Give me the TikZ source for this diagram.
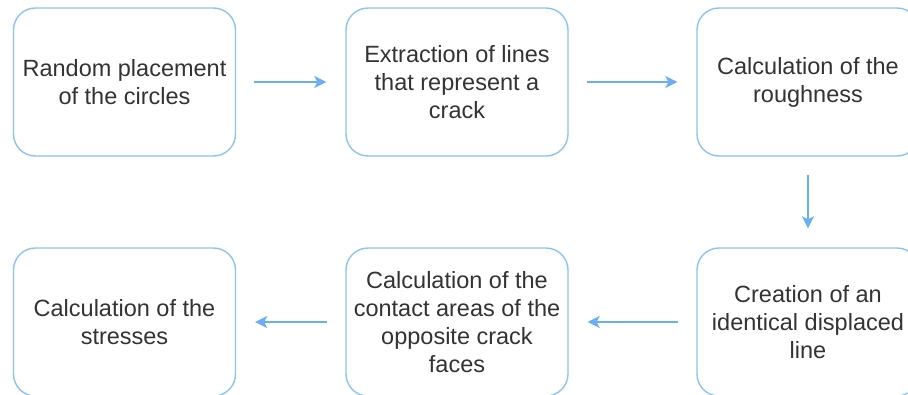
\documentclass[tikz,border=0pt]{standalone}
\usepackage{fontspec}
\setmainfont{Liberation Sans}
\usetikzlibrary{arrows.meta}
\definecolor{boxblue}{HTML}{8CC3F7}
\definecolor{arrowblue}{HTML}{6AAFF5}
\definecolor{txtgray}{HTML}{333333}
\begin{document}
\begin{tikzpicture}[x=1pt,y=-1pt,
  stepbox/.style={draw=boxblue, line width=1.4pt, rounded corners=22pt, fill=white,
    minimum width=222pt, minimum height=148pt, inner sep=0pt, align=center,
    text=txtgray, font=\fontsize{23.5}{28}\selectfont},
  flow/.style={draw=arrowblue, line width=1.5pt, -{Stealth[length=12pt,width=12pt,inset=3pt]},
    shorten <=18pt, shorten >=19pt}]
\useasboundingbox (0,0) rectangle (908,394);
\begin{scope}
\clip (0,0) rectangle (908,394);
\node[stepbox] (b1) at (124.5,82) {Random placement\\of the circles};
\node[stepbox] (b2) at (457,82) {Extraction of lines\\that represent a\\crack};
\node[stepbox] (b3) at (808,82) {Calculation of the\\roughness};
\node[stepbox] (b4) at (124.5,322) {Calculation of the\\stresses};
\node[stepbox] (b5) at (457,322) {Calculation of the\\contact areas of the\\opposite crack\\faces};
\node[stepbox] (b6) at (808,322) {Creation of an\\identical displaced\\line};
\draw[flow] (b1) -- (b2);
\draw[flow] (b2) -- (b3);
\draw[flow] (b3) -- (b6);
\draw[flow] (b6) -- (b5);
\draw[flow] (b5) -- (b4);
\end{scope}
\end{tikzpicture}
\end{document}
